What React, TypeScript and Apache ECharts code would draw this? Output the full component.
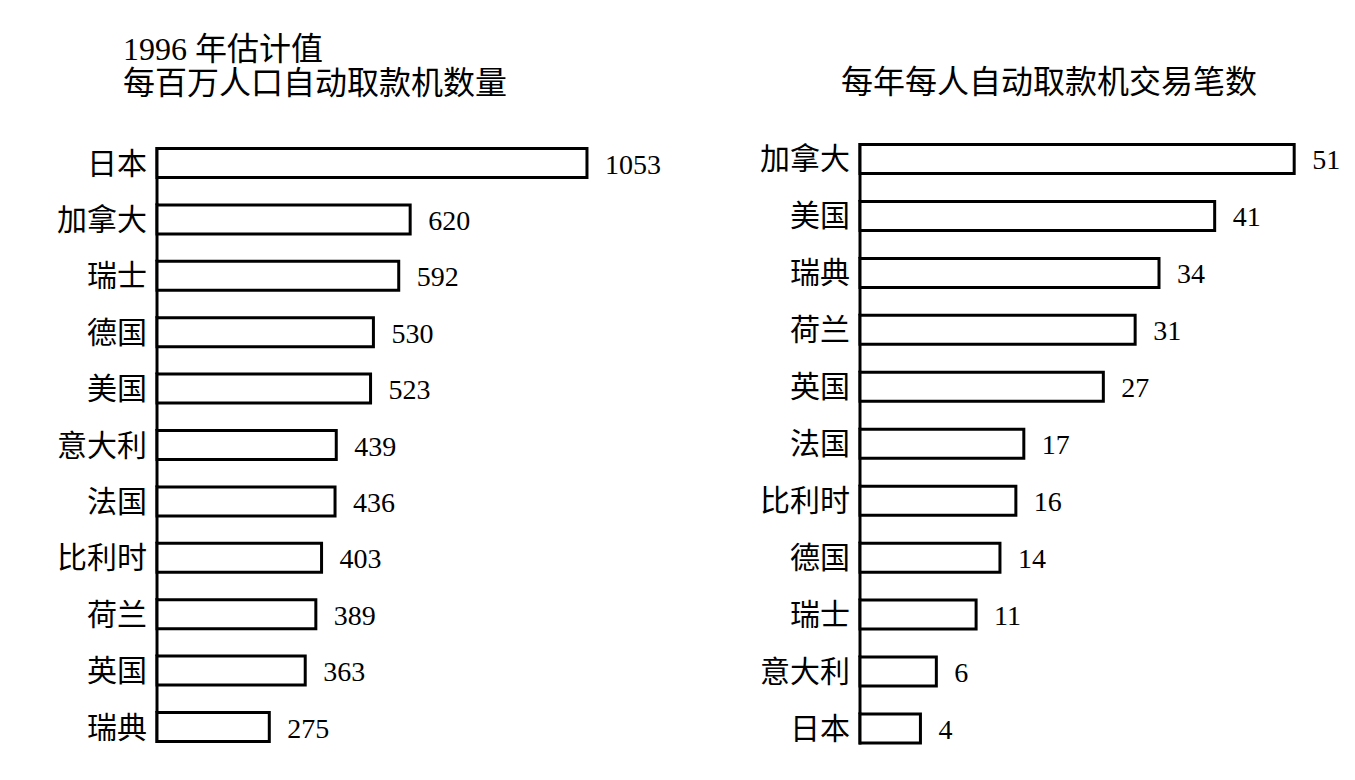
import React, { useEffect, useRef } from "react";
import * as echarts from "echarts";

const leftTitle = "1996 年估计值\n每百万人口自动取款机数量";
const rightTitle = "每年每人自动取款机交易笔数";

const leftCategories = ["日本", "加拿大", "瑞士", "德国", "美国", "意大利", "法国", "比利时", "荷兰", "英国", "瑞典"];
const leftValues = [1053, 620, 592, 530, 523, 439, 436, 403, 389, 363, 275];

const rightCategories = ["加拿大", "美国", "瑞典", "荷兰", "英国", "法国", "比利时", "德国", "瑞士", "意大利", "日本"];
const rightValues = [51, 41, 34, 31, 27, 17, 16, 14, 11, 6, 4];

const LEFT_MIN = 0;
const LEFT_MAX = 1200;
const RIGHT_MIN = -3.6;
const RIGHT_MAX = 55;

const FONT = "'Liberation Serif', 'Noto Sans CJK SC', serif";

function makeRender(xMin: number, count: number) {
  return (params: any, api: any) => {
    const ci = api.value(0);
    const v = api.value(1);
    const c = api.coord([v, ci]);
    const s = api.coord([xMin, ci]);
    const band = api.size([0, 1])[1];
    const h = 29;
    const last = ci === count - 1;
    return {
      type: "group",
      children: [
        {
          type: "line",
          shape: {
            x1: s[0],
            y1: c[1] - h / 2 - 1.5,
            x2: s[0],
            y2: last ? c[1] + h / 2 + 1.5 : c[1] - h / 2 + band,
          },
          style: { stroke: "#000", lineWidth: 3 },
        },
        {
          type: "rect",
          shape: { x: s[0], y: c[1] - h / 2, width: c[0] - s[0], height: h },
          style: { fill: "#fff", stroke: "#000", lineWidth: 3 },
        },
        {
          type: "text",
          style: {
            text: String(v),
            x: c[0] + 18,
            y: c[1] + 1,
            fill: "#000",
            fontSize: 28,
            fontFamily: FONT,
            align: "left",
            verticalAlign: "middle",
          },
        },
      ],
    };
  };
}

export default function App() {
  const ref = useRef<HTMLDivElement>(null);
  useEffect(() => {
    if (!ref.current) return;
    const chart = echarts.init(ref.current, null, { renderer: "svg" });
    const catLabel = {
      margin: 10,
      fontSize: 30,
      color: "#000",
      fontFamily: FONT,
    };
    chart.setOption({
      animation: false,
      backgroundColor: "#fff",
      title: [
        {
          text: leftTitle,
          left: 118,
          top: 27,
          textStyle: { fontSize: 32, fontWeight: "normal", color: "#000", fontFamily: FONT, lineHeight: 34 },
        },
        {
          text: rightTitle,
          left: 836,
          top: 60,
          textStyle: { fontSize: 32, fontWeight: "normal", color: "#000", fontFamily: FONT, lineHeight: 34 },
        },
      ],
      grid: [
        { left: 157, top: 134.8, width: 490, height: 620.4 },
        { left: 860, top: 130.5, width: 466, height: 626.5 },
      ],
      xAxis: [
        { type: "value", gridIndex: 0, min: LEFT_MIN, max: LEFT_MAX, show: false },
        { type: "value", gridIndex: 1, min: RIGHT_MIN, max: RIGHT_MAX, show: false },
      ],
      yAxis: [
        {
          type: "category",
          gridIndex: 0,
          inverse: true,
          data: leftCategories,
          axisLine: { show: false },
          axisTick: { show: false },
          splitLine: { show: false },
          axisLabel: catLabel,
        },
        {
          type: "category",
          gridIndex: 1,
          inverse: true,
          data: rightCategories,
          axisLine: { show: false },
          axisTick: { show: false },
          splitLine: { show: false },
          axisLabel: catLabel,
        },
      ],
      series: [
        {
          type: "custom",
          xAxisIndex: 0,
          yAxisIndex: 0,
          encode: { x: 1, y: 0 },
          data: leftValues.map((v, i) => [i, v]),
          renderItem: makeRender(LEFT_MIN, leftValues.length),
        },
        {
          type: "custom",
          xAxisIndex: 1,
          yAxisIndex: 1,
          encode: { x: 1, y: 0 },
          data: rightValues.map((v, i) => [i, v]),
          renderItem: makeRender(RIGHT_MIN, rightValues.length),
        },
      ],
    });
    return () => chart.dispose();
  }, []);
  return (
    <div
      ref={ref}
      style={{ position: "absolute", left: 0, top: 0, width: 1355, height: 780 }}
    />
  );
}
